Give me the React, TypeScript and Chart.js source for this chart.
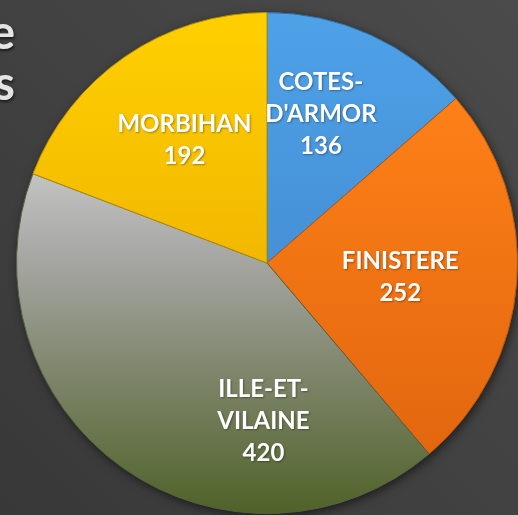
import React, { useEffect, useRef } from "react";
import { Chart, registerables } from "chart.js";

Chart.register(...registerables);

const categories = ["COTES-D'ARMOR", "FINISTERE", "ILLE-ET-VILAINE", "MORBIHAN"];
const values = [136, 252, 420, 192];
const titleTails = ["e", "s"];

// label placement tweaks: [angle offset in degrees from slice middle, radius fraction]
const labelPlacement: [number, number][] = [
  [-4.5, 0.63],
  [1.7, 0.535],
  [-34, 0.63],
  [0.6, 0.59],
];

const FONT = "Lato, 'Open Sans', sans-serif";

function sliceFill(index: number, chart: any) {
  const area = chart.chartArea;
  const ctx = chart.ctx;
  const solid = ["#4a9be2", "#f97d16", "#9aa08a", "#fcc400"];
  if (!area) return solid[index];
  const top = area.top;
  const bottom = area.bottom;
  let g: CanvasGradient;
  if (index === 0) {
    g = ctx.createLinearGradient(0, top, 0, top + 250);
    g.addColorStop(0, "#4ea2e8");
    g.addColorStop(1, "#4690d6");
  } else if (index === 1) {
    g = ctx.createLinearGradient(0, top + 90, 0, top + 450);
    g.addColorStop(0, "#fd8018");
    g.addColorStop(1, "#e2660e");
  } else if (index === 2) {
    g = ctx.createLinearGradient(0, top + 160, 0, bottom);
    g.addColorStop(0, "#c3c3c3");
    g.addColorStop(0.25, "#a6a7a3");
    g.addColorStop(0.55, "#838971");
    g.addColorStop(1, "#4f6228");
  } else {
    g = ctx.createLinearGradient(0, top, 0, top + 250);
    g.addColorStop(0, "#ffd000");
    g.addColorStop(1, "#f2b800");
  }
  return g;
}

const borderColors = ["#2f6ea8", "#b8560a", "#55603f", "#b88d00"];

function wrapLabel(ctx: CanvasRenderingContext2D, text: string, maxWidth: number): string[] {
  const parts = text.match(/[^-]+-?/g) || [text];
  const lines: string[] = [];
  let cur = "";
  for (const p of parts) {
    const trial = cur + p;
    if (cur && ctx.measureText(trial).width > maxWidth) {
      lines.push(cur);
      cur = p;
    } else {
      cur = trial;
    }
  }
  if (cur) lines.push(cur);
  return lines;
}

const backgroundPlugin = {
  id: "bgPlugin",
  beforeDraw(chart: any) {
    const { ctx, width, height } = chart;
    ctx.save();
    const g = ctx.createLinearGradient(width, 0, 0, height);
    g.addColorStop(0, "#4b4b4b");
    g.addColorStop(1, "#383838");
    ctx.fillStyle = g;
    ctx.fillRect(0, 0, width, height);
    // title tails (text cut off at the left)
    ctx.font = `bold 47px ${FONT}`;
    ctx.textAlign = "right";
    ctx.textBaseline = "alphabetic";
    ctx.shadowColor = "rgba(0,0,0,0.6)";
    ctx.shadowBlur = 3;
    ctx.shadowOffsetX = 1;
    ctx.shadowOffsetY = 2;
    ctx.fillStyle = "#e4e4e4";
    ctx.fillText(titleTails[0], 15, 49);
    ctx.fillText(titleTails[1], 15, 100);
    ctx.restore();
  },
  beforeDatasetsDraw(chart: any) {
    const meta = chart.getDatasetMeta(0);
    const arc = meta.data[0];
    if (!arc) return;
    const ctx = chart.ctx;
    ctx.save();
    ctx.shadowColor = "rgba(0,0,0,0.55)";
    ctx.shadowBlur = 10;
    ctx.shadowOffsetX = 2;
    ctx.shadowOffsetY = 3;
    ctx.fillStyle = "#444";
    ctx.beginPath();
    ctx.arc(arc.x, arc.y, arc.outerRadius, 0, Math.PI * 2);
    ctx.fill();
    ctx.restore();
  },
  afterDatasetsDraw(chart: any) {
    const meta = chart.getDatasetMeta(0);
    const ctx = chart.ctx;
    ctx.save();
    ctx.font = `bold 24px ${FONT}`;
    ctx.textAlign = "center";
    ctx.textBaseline = "middle";
    ctx.fillStyle = "#ffffff";
    ctx.shadowColor = "rgba(0,0,0,0.35)";
    ctx.shadowBlur = 2;
    ctx.shadowOffsetX = 1;
    ctx.shadowOffsetY = 1;
    meta.data.forEach((el: any, i: number) => {
      const mid = (el.startAngle + el.endAngle) / 2 + (labelPlacement[i][0] * Math.PI) / 180;
      const r = el.outerRadius * labelPlacement[i][1];
      const cx = el.x + Math.cos(mid) * r;
      const cy = el.y + Math.sin(mid) * r;
      const lines = [...wrapLabel(ctx, categories[i], 130), String(values[i])];
      const lh = 32;
      const y0 = cy - ((lines.length - 1) * lh) / 2;
      lines.forEach((ln, k) => ctx.fillText(ln, cx, y0 + k * lh));
    });
    ctx.restore();
  },
};

export default function App() {
  const ref = useRef<HTMLCanvasElement | null>(null);
  useEffect(() => {
    document.body.style.margin = "0";
    const canvas = ref.current;
    if (!canvas) return;
    const chart = new Chart(canvas, {
      type: "pie",
      data: {
        labels: categories,
        datasets: [
          {
            data: values,
            backgroundColor: (c: any) => sliceFill(c.dataIndex, c.chart),
            borderColor: borderColors,
            borderWidth: 1,
          },
        ],
      },
      options: {
        responsive: false,
        animation: false,
        layout: { padding: { left: 16, right: 0, top: 12, bottom: 1 } },
        plugins: {
          legend: { display: false },
          tooltip: { enabled: false },
          title: { display: false },
        },
      },
      plugins: [backgroundPlugin],
    });
    return () => chart.destroy();
  }, []);
  return (
    <div style={{ position: "fixed", left: 0, top: 0, width: 518, height: 515 }}>
      <canvas ref={ref} width={518} height={515} style={{ display: "block" }} />
    </div>
  );
}
